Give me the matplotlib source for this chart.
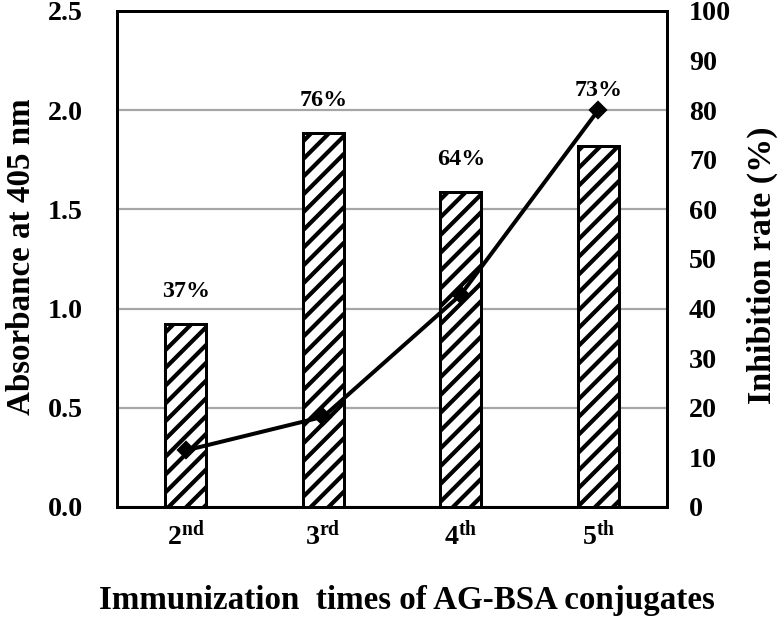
import matplotlib
matplotlib.use('Agg')
import matplotlib.pyplot as plt
from matplotlib.ticker import MultipleLocator

# ---- data ----
categories = ['2', '3', '4', '5']
suffixes = ['nd', 'rd', 'th', 'th']
absorbance = [0.285, 0.455, 1.07, 2.0]          # line, left axis
inhibition = [36.9, 75.5, 63.6, 72.8]           # bars, right axis
inhibition_labels = ['37%', '76%', '64%', '73%']
abs_ticks = [0.0, 0.5, 1.0, 1.5, 2.0, 2.5]
inh_ticks = list(range(0, 101, 10))

DPI = 160
W, H = 782, 618


def pt(px):
    return px * 72.0 / DPI


plt.rcParams.update({
    'font.family': ['Liberation Serif', 'DejaVu Serif'],
    'font.weight': 'bold',
    'mathtext.fontset': 'custom',
    'mathtext.rm': 'Liberation Serif:bold',
    'mathtext.it': 'Liberation Serif:bold:italic',
    'mathtext.bf': 'Liberation Serif:bold',
    'hatch.linewidth': pt(4.2),
    'hatch.color': 'black',
})

fig = plt.figure(figsize=(W / DPI, H / DPI), dpi=DPI)
fig.patch.set_facecolor('white')
ax = fig.add_axes([117 / W, (H - 507) / H, 550 / W, 496 / H])
ax2 = ax.twinx()
ax2.set_zorder(0)
ax.set_zorder(1)
ax.patch.set_visible(False)

x = list(range(len(categories)))

# bars (inhibition rate) on right axis
ax2.bar(x, inhibition, width=0.3, color='white', edgecolor='black',
        linewidth=pt(3), hatch='///', zorder=3)
ax2.set_ylim(0, 100)
ax2.set_yticks(inh_ticks)
ax2.set_yticklabels([str(t) for t in inh_ticks])
ax2.yaxis.set_minor_locator(MultipleLocator(20))
ax2.yaxis.remove_overlapping_locs = False
ax2.set_axisbelow(True)
ax2.grid(axis='y', which='minor', color='#a6a6a6', linewidth=pt(2.2))
ax2.tick_params(axis='y', which='both', length=0, pad=pt(22), labelsize=pt(28))

for xi, val, lbl, off in zip(x, inhibition, inhibition_labels, [32, 32, 32, 55]):
    ax2.annotate(lbl, (xi, val), xytext=(0, pt(off)), textcoords='offset points',
                 ha='center', va='center', fontsize=pt(24), fontweight='bold')

# line (absorbance) on left axis
ax.plot(x, absorbance, color='black', linewidth=pt(4), marker='D',
        markersize=pt(12), zorder=4)
ax.set_ylim(0, 2.5)
ax.set_xlim(-0.5, len(categories) - 0.5)
ax.set_yticks(abs_ticks)
ax.set_yticklabels([f'{t:.1f}' for t in abs_ticks])
ax.set_xticks(x)
ax.set_xticklabels([f'{c}$^{{\\mathrm{{{s}}}}}$' for c, s in zip(categories, suffixes)])
ax.tick_params(axis='y', length=0, pad=pt(34), labelsize=pt(28))
ax.tick_params(axis='x', length=0, pad=pt(14), labelsize=pt(28))

for a in (ax, ax2):
    for s in a.spines.values():
        s.set_linewidth(pt(3))
        s.set_color('black')

fig.text(22 / W, (H - 257) / H, 'Absorbance at 405 nm', rotation=90,
         ha='center', va='center', fontsize=pt(33), fontweight='bold')
fig.text(762 / W, (H - 265) / H, 'Inhibition rate (%)', rotation=90,
         ha='center', va='center', fontsize=pt(34), fontweight='bold')
fig.text(407 / W, (H - 601) / H, 'Immunization  times of AG-BSA conjugates',
         ha='center', va='center', fontsize=pt(33), fontweight='bold')

fig.savefig('out.png', dpi=DPI, facecolor='white')
